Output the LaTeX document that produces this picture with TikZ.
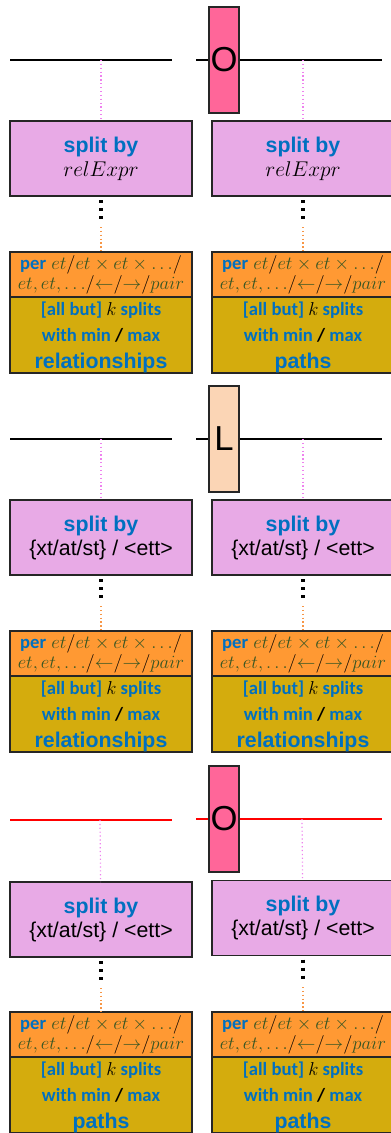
\documentclass[tikz,border=0pt]{standalone}
\usepackage{fix-cm}
\usepackage{fontspec}
\setmainfont{Liberation Sans}
\newfontfamily\calibri{Carlito}
\usetikzlibrary{positioning}
\definecolor{splitviolet}{HTML}{E8AAE6}
\definecolor{perorange}{HTML}{FF9933}
\definecolor{kolive}{HTML}{D4AC0D}
\definecolor{textblue}{HTML}{0070C0}
\definecolor{mathgreen}{HTML}{375623}
\definecolor{markpink}{HTML}{FF6699}
\definecolor{markpeach}{HTML}{FBD5B5}
\definecolor{dotviolet}{HTML}{EE82EE}
\definecolor{dotorange}{HTML}{F79646}
\definecolor{edgegray}{HTML}{262626}
\definecolor{trackred}{HTML}{FF0000}

\newcommand{\pertext}{{\calibri\bfseries\textcolor{textblue}{per}}
    $\textcolor{mathgreen}{et}/\textcolor{mathgreen}{et\times et\times\ldots}/$\\
    $\textcolor{mathgreen}{et,et,\ldots}/\textcolor{mathgreen}{\leftarrow}/\textcolor{mathgreen}{\rightarrow}/\textcolor{mathgreen}{pair}$}
\newcommand{\ktext}[1]{[all but] \textcolor{black}{$k$} splits\\
    with min \textcolor{black}{/} max\\
    {\normalfont\bfseries\fontsize{16}{20}\selectfont #1}}

\begin{document}
\begin{tikzpicture}[
    x=0.75pt, y=-0.75pt,
    splitbox/.style={
        draw=edgegray,
        line width=1.1pt,
        fill=splitviolet,
        minimum width=136.5pt,
        minimum height=56.25pt,
        inner sep=0pt,
        outer sep=0pt,
        align=center,
        font=\fontsize{16}{18}\selectfont
    },
    perbox/.style={
        draw=edgegray,
        line width=1.1pt,
        fill=perorange,
        minimum width=136.5pt,
        minimum height=33.75pt,
        inner sep=0pt,
        outer sep=0pt,
        align=center,
        font=\fontsize{14}{13.5}\selectfont
    },
    kbox/.style={
        draw=edgegray,
        line width=1.1pt,
        fill=kolive,
        minimum width=136.5pt,
        minimum height=57pt,
        inner sep=0pt,
        outer sep=0pt,
        align=center,
        text depth=-8pt,
        text=textblue,
        font=\calibri\bfseries\fontsize{14}{20}\selectfont
    },
    markbox/.style={
        draw=edgegray,
        line width=1.1pt,
        minimum width=22.5pt,
        minimum height=79.5pt,
        inner sep=0pt,
        font=\fontsize{26}{26}\selectfont
    },
    track/.style={line width=1.5pt},
    tracktail/.style={line width=1.1pt},
    tap/.style={dotviolet, line width=0.9pt, dotted},
    ellipsis/.style={line width=2.3pt, dash pattern=on 2.3pt off 3.7pt, shorten <=3pt},
    feed/.style={dotorange, line width=0.9pt, dotted, shorten <=3.75pt}
]
\useasboundingbox (0,0) rectangle (391,1133);

% first row: O, split by relExpr
\coordinate (t1a) at (10,60);
\coordinate (t1b) at (172,60);
\coordinate (t1c) at (196,60);
\coordinate (t1d) at (382,60);
\node[markbox, fill=markpink] (mark1) at (224,60) {O};
\draw[track] (t1a) -- (t1b);
\draw[tracktail] (t1c) -- (mark1);
\draw[tracktail] (mark1) -- (t1d);

\node[splitbox] (split1l) at (101,158.5) {\textbf{\textcolor{textblue}{split by}}\\$relExpr$};
\node[splitbox] (split1r) at (303,158.5) {\textbf{\textcolor{textblue}{split by}}\\$relExpr$};
\node[perbox] (per1l) at (101,274.5) {\pertext};
\node[perbox] (per1r) at (303,274.5) {\pertext};
\node[kbox, below=0pt of per1l] (k1l) {\ktext{relationships}};
\node[kbox, below=0pt of per1r] (k1r) {\ktext{paths}};

\coordinate (tap1l) at (101,60);
\coordinate (tap1r) at (303,60);
\coordinate (gap1l) at (101,222);
\coordinate (gap1r) at (303,222);
\draw[tap] (tap1l) -- (split1l);
\draw[tap] (tap1r) -- (split1r);
\draw[ellipsis] (split1l) -- (gap1l);
\draw[ellipsis] (split1r) -- (gap1r);
\draw[feed] (gap1l) -- (per1l);
\draw[feed] (gap1r) -- (per1r);

% second row: L, split by types
\coordinate (t2a) at (10,439);
\coordinate (t2b) at (172,439);
\coordinate (t2c) at (196,439);
\coordinate (t2d) at (382,439);
\node[markbox, fill=markpeach] (mark2) at (224,439) {L};
\draw[track] (t2a) -- (t2b);
\draw[tracktail] (t2c) -- (mark2);
\draw[tracktail] (mark2) -- (t2d);

\node[splitbox] (split2l) at (101,537.5) {\textbf{\textcolor{textblue}{split by}}\\\{xt/at/st\} / <ett>};
\node[splitbox] (split2r) at (303,537.5) {\textbf{\textcolor{textblue}{split by}}\\\{xt/at/st\} / <ett>};
\node[perbox] (per2l) at (101,653.5) {\pertext};
\node[perbox] (per2r) at (303,653.5) {\pertext};
\node[kbox, below=0pt of per2l] (k2l) {\ktext{relationships}};
\node[kbox, below=0pt of per2r] (k2r) {\ktext{relationships}};

\coordinate (tap2l) at (101,439);
\coordinate (tap2r) at (303,439);
\coordinate (gap2l) at (101,601);
\coordinate (gap2r) at (303,601);
\draw[tap] (tap2l) -- (split2l);
\draw[tap] (tap2r) -- (split2r);
\draw[ellipsis] (split2l) -- (gap2l);
\draw[ellipsis] (split2r) -- (gap2r);
\draw[feed] (gap2l) -- (per2l);
\draw[feed] (gap2r) -- (per2r);

% third row: O on red track, split by types
\coordinate (t3a) at (10,820);
\coordinate (t3b) at (172,820);
\coordinate (t3c) at (196,819);
\coordinate (t3d) at (382,819);
\node[markbox, fill=markpink] (mark3) at (224,819) {O};
\draw[track, trackred] (t3a) -- (t3b);
\draw[tracktail, trackred] (t3c) -- (mark3);
\draw[tracktail, trackred] (mark3) -- (t3d);

\node[splitbox] (split3l) at (101,919.5) {\textbf{\textcolor{textblue}{split by}}\\\{xt/at/st\} / <ett>};
\node[splitbox] (split3r) at (303,918) {\textbf{\textcolor{textblue}{split by}}\\\{xt/at/st\} / <ett>};
\node[perbox] (per3l) at (101,1034.5) {\pertext};
\node[perbox] (per3r) at (303,1034.5) {\pertext};
\node[kbox, below=0pt of per3l] (k3l) {\ktext{paths}};
\node[kbox, below=0pt of per3r] (k3r) {\ktext{paths}};

\coordinate (tap3l) at (100,820);
\coordinate (tap3r) at (302,819);
\coordinate (gap3l) at (101,983);
\coordinate (gap3r) at (303,982);
\draw[tap] (tap3l) -- (split3l);
\draw[tap] (tap3r) -- (split3r);
\draw[ellipsis] (split3l) -- (gap3l);
\draw[ellipsis] (split3r) -- (gap3r);
\draw[feed] (gap3l) -- (per3l);
\draw[feed] (gap3r) -- (per3r);

\end{tikzpicture}
\end{document}
